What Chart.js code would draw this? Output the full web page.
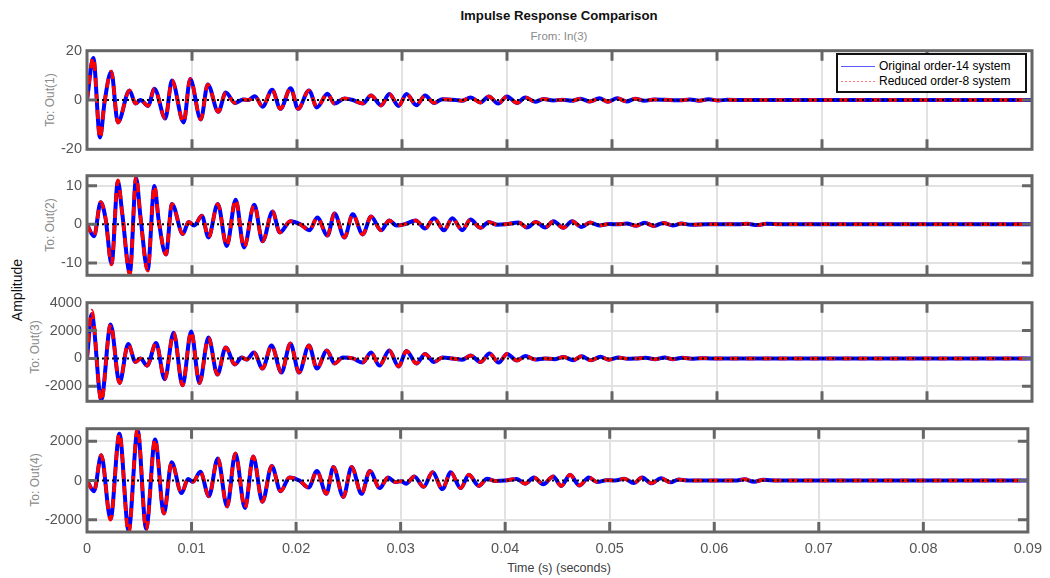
<!DOCTYPE html>
<html><head><meta charset="utf-8">
<script src="https://cdn.jsdelivr.net/npm/chart.js@4"></script>
<style>
html,body{margin:0;padding:0;background:#fff;}
body{width:1050px;height:578px;overflow:hidden;position:relative;font-family:"Liberation Sans",Arial,Helvetica,sans-serif;}
.pc{position:absolute;left:0;width:1050px;}
.txt{position:absolute;white-space:nowrap;transform:translate(-50%,-50%);line-height:1;}
.rot{transform:translate(-50%,-50%) rotate(-90deg);}
#legend{position:absolute;left:836px;top:53px;width:187px;height:36px;border:2px solid #111;background:#fff;z-index:5;}
#legend .ln{position:absolute;left:3px;width:34px;height:1px;}
#legend .lt{position:absolute;left:41px;font-size:12px;color:#000;transform:translateY(-50%);white-space:nowrap;line-height:1;}
</style></head><body>

<div class="txt" style="left:559px;top:16px;font-size:13.2px;font-weight:bold;color:#111;">Impulse Response Comparison</div>
<div class="txt" style="left:559px;top:37px;font-size:11.5px;color:#8a8a8a;">From: In(3)</div>
<div class="txt rot" style="left:17px;top:290px;font-size:14px;color:#111;">Amplitude</div>
<div class="txt rot" style="left:50px;top:100px;font-size:12px;color:#8a8a8a;">To: Out(1)</div>
<div class="txt rot" style="left:50px;top:225px;font-size:12px;color:#8a8a8a;">To: Out(2)</div>
<div class="txt rot" style="left:35px;top:347px;font-size:12px;color:#8a8a8a;">To: Out(3)</div>
<div class="txt rot" style="left:35px;top:480px;font-size:12px;color:#8a8a8a;">To: Out(4)</div>
<div class="txt" style="left:559px;top:568px;font-size:12.5px;color:#404040;">Time (s) (seconds)</div>

<div class="pc" style="top:37px;height:126px;"><canvas id="c1" width="1050" height="126"></canvas></div>
<div class="pc" style="top:162px;height:127px;"><canvas id="c2" width="1050" height="127"></canvas></div>
<div class="pc" style="top:289px;height:126px;"><canvas id="c3" width="1050" height="126"></canvas></div>
<div class="pc" style="top:415px;height:162px;"><canvas id="c4" width="1050" height="162"></canvas></div>

<div id="legend">
  <div class="ln" style="top:11px;background:#5a5aff;"></div>
  <div class="lt" style="top:11px;">Original order-14 system</div>
  <div class="ln" style="top:26px;background:repeating-linear-gradient(to right,#ff7a7a 0 2px,rgba(255,255,255,0) 2px 4px);"></div>
  <div class="lt" style="top:26px;">Reduced order-8 system</div>
</div>

<script>
// ---- data (time in ms) ----
const xTicks = [0, 0.01, 0.02, 0.03, 0.04, 0.05, 0.06, 0.07, 0.08, 0.09];
const seriesNames = ['Original order-14 system', 'Reduced order-8 system'];

// Out(1)
const t1 = [0, 0.60, 1.24, 1.68, 2.31, 2.94, 4.05, 4.62, 5.09, 5.82,
  6.42, 7.46, 8.09, 9.20, 9.83, 10.84, 11.50, 12.51, 13.21, 14.09,
  14.88, 15.36, 15.99, 16.72, 17.63, 18.42, 19.40, 20.10, 21.14, 21.90,
  22.90, 23.57, 24.52, 25.31, 26.26, 27.05, 28.00, 28.79, 29.67, 30.43,
  31.38, 32.20, 33.05, 33.84, 35.10, 35.70, 36.53, 37.48, 38.27, 39.15,
  40.00, 40.95, 41.74, 42.69, 43.48, 44.40, 45.30, 46.20, 47.00, 47.90,
  48.80, 49.60, 50.50, 51.40, 52.20, 53.10, 54.00, 55.50, 56.50, 57.40,
  58.30, 59.20, 60.10, 61.00, 62.50, 90];
const out1Orig = [0, 17.0, -15.2, -0.6, 11.5, -9.1, 3.9, -1.45, 0, -2.4,
  4.6, -7.5, 7.9, -9.1, 8.5, -7.9, 6.3, -4.8, 3.0, -1.2,
  0.2, 0, 1.5, -2.7, 4.2, -3.6, 4.8, -3.6, 3.9, -3.0,
  2.5, -1.45, 0.6, 0, -1.45, 1.8, -2.2, 2.4, -2.4, 2.4,
  -2.1, 1.8, -1.2, 0.3, 0, -0.3, 1.0, -1.0, 1.45, -1.45,
  1.45, -1.2, 1.0, -0.7, 0.4, -0.2, 0.1, -0.3, 0.5, -0.6,
  0.7, -0.7, 0.7, -0.6, 0.5, -0.3, 0.2, 0, -0.15, 0.25,
  -0.3, 0.3, -0.2, 0.1, 0, 0];
const out1Red = [0, 17.3, -15.6, -0.6, 11.6, -9.1, 3.9, -1.45, 0, -2.4,
  4.6, -7.5, 7.9, -9.1, 8.5, -7.9, 6.3, -4.8, 3.0, -1.2,
  0.2, 0, 1.5, -2.7, 4.2, -3.6, 4.8, -3.6, 3.9, -3.0,
  2.5, -1.45, 0.6, 0, -1.45, 1.8, -2.2, 2.4, -2.4, 2.4,
  -2.1, 1.8, -1.2, 0.3, 0, -0.3, 1.0, -1.0, 1.45, -1.45,
  1.45, -1.2, 1.0, -0.7, 0.4, -0.2, 0.1, -0.3, 0.5, -0.6,
  0.7, -0.7, 0.7, -0.6, 0.5, -0.3, 0.2, 0, -0.15, 0.25,
  -0.3, 0.3, -0.2, 0.1, 0, 0];

// Out(2)
const t2 = [0, 0.67, 1.30, 1.77, 2.34, 2.94, 3.35, 4.08, 4.68, 5.09,
  5.78, 6.42, 6.83, 7.52, 8.09, 9.13, 9.67, 10.21, 10.94, 11.57,
  12.45, 13.31, 14.16, 14.95, 15.93, 16.72, 17.67, 18.36, 19.37, 20.32,
  21.20, 21.93, 22.90, 23.57, 24.52, 25.31, 26.26, 27.05, 28.00, 28.79,
  29.48, 30.21, 31.31, 32.20, 33.05, 34.00, 34.79, 35.74, 36.53, 37.48,
  38.27, 39.06, 39.85, 41.11, 41.90, 42.75, 43.64, 44.43, 45.37, 46.20,
  47.10, 47.90, 48.80, 49.70, 50.60, 51.40, 52.30, 53.10, 54.00, 54.90,
  55.80, 56.60, 57.50, 59.00, 62.00, 62.90, 63.80, 64.70, 66.00, 90];
const out2Orig = [0, -3.1, 5.7, 1.5, -10.2, 11.1, 3.0, -12.5, 12.0, 2.0,
  -11.8, 9.9, 1.0, -7.8, 5.3, -2.5, 0.6, -0.3, 2.2, -3.4,
  5.3, -5.6, 6.4, -6.0, 5.1, -4.4, 3.3, -2.1, 0.8, 0,
  -1.55, 1.8, -2.9, 2.8, -3.4, 2.6, -2.6, 2.0, -1.55, 1.0,
  -0.3, 0, 1.0, -1.1, 1.6, -1.55, 1.55, -1.5, 1.25, -0.9,
  0.6, -0.1, 0, 0.5, -0.8, 0.6, -0.8, 0.8, -0.9, 0.8,
  -0.7, 0.5, -0.3, 0.1, 0, 0.25, -0.35, 0.4, -0.4, 0.35,
  -0.3, 0.2, -0.1, 0, 0, 0.15, -0.2, 0.15, 0, 0];
const out2Red = [0, -3.1, 5.8, 1.5, -10.4, 11.4, 3.0, -13.0, 12.6, 2.0,
  -12.0, 10.0, 1.0, -7.8, 5.3, -2.5, 0.6, -0.3, 2.2, -3.4,
  5.3, -5.6, 6.4, -6.0, 5.1, -4.4, 3.3, -2.1, 0.8, 0,
  -1.55, 1.8, -2.9, 2.8, -3.4, 2.6, -2.6, 2.0, -1.55, 1.0,
  -0.3, 0, 1.0, -1.1, 1.6, -1.55, 1.55, -1.5, 1.25, -0.9,
  0.6, -0.1, 0, 0.5, -0.8, 0.6, -0.8, 0.8, -0.9, 0.8,
  -0.7, 0.5, -0.3, 0.1, 0, 0.25, -0.35, 0.4, -0.4, 0.35,
  -0.3, 0.2, -0.1, 0, 0, 0.15, -0.2, 0.15, 0, 0];

// Out(3)
const t3 = [0, 0.45, 1.36, 2.25, 3.10, 3.92, 4.62, 5.09, 5.72, 6.58,
  7.40, 8.25, 9.10, 9.92, 10.71, 11.57, 12.42, 13.21, 14.09, 14.73,
  15.20, 15.90, 16.72, 17.57, 18.52, 19.37, 20.19, 21.14, 21.90, 22.85,
  23.57, 24.36, 25.31, 26.26, 27.05, 27.84, 28.79, 29.67, 30.43, 31.38,
  32.20, 33.05, 33.84, 34.79, 35.74, 36.53, 37.48, 38.33, 39.21, 40.00,
  40.95, 41.74, 42.69, 43.64, 44.50, 45.40, 46.30, 47.10, 48.00, 48.90,
  49.70, 50.60, 51.50, 52.30, 53.20, 54.10, 55.00, 55.80, 56.70, 57.60,
  58.50, 59.40, 60.20, 61.50, 90];
const out3Orig = [0, 3150, -2950, 2430, -1760, 1030, -260, 0, -520, 1100,
  -1500, 1850, -1935, 1935, -1760, 1500, -1160, 775, -430, 65,
  -85, 430, -730, 925, -1010, 1075, -1010, 925, -730, 570,
  -365, 65, 0, -300, 430, -515, 560, -580, 540, -365,
  320, -260, 65, 0, -100, 215, -260, 345, -300, 320,
  -150, 170, -85, 0, -60, 100, -130, 150, -140, 120,
  -90, 60, -20, 0, 40, -60, 70, -60, 40, -20,
  10, 0, 0, 0, 0];
const out3Red = [0, 3440, -3080, 2450, -1770, 1030, -260, 0, -520, 1100,
  -1500, 1850, -1935, 1935, -1760, 1500, -1160, 775, -430, 65,
  -85, 430, -730, 925, -1010, 1075, -1010, 925, -730, 570,
  -365, 65, 0, -300, 430, -515, 560, -580, 540, -365,
  320, -260, 65, 0, -100, 215, -260, 345, -300, 320,
  -150, 170, -85, 0, -60, 100, -130, 150, -140, 120,
  -90, 60, -20, 0, 40, -60, 70, -60, 40, -20,
  10, 0, 0, 0, 0];

// Out(4)
const t4 = [0, 0.67, 1.36, 2.25, 3.10, 3.98, 4.84, 5.66, 6.51, 7.36,
  8.09, 9.04, 9.67, 10.14, 10.84, 11.66, 12.51, 13.40, 14.19, 15.11,
  15.90, 16.78, 17.67, 18.52, 19.37, 20.32, 21.20, 21.99, 22.90, 23.57,
  24.52, 25.31, 26.26, 27.05, 28.00, 28.79, 29.48, 30.05, 30.52, 31.31,
  32.20, 33.05, 34.00, 34.79, 35.74, 36.53, 37.48, 38.27, 39.06, 40.00,
  41.11, 41.90, 42.75, 43.64, 44.59, 45.37, 46.20, 47.10, 48.00, 48.80,
  49.70, 50.50, 51.40, 52.30, 53.10, 54.00, 54.90, 55.80, 56.60, 57.50,
  58.40, 60.00, 62.00, 62.90, 63.80, 64.70, 66.00, 90];
const out4Orig = [0, -545, 1285, -1960, 2375, -2550, 2550, -2450, 2090, -1670,
  930, -640, 80, -65, 450, -800, 1125, -1320, 1380, -1400,
  1220, -1075, 740, -545, 160, 0, -355, 480, -675, 690,
  -835, 690, -675, 480, -385, 160, -80, -30, -160, 210,
  -320, 420, -435, 420, -385, 290, -275, 95, -20, 0,
  80, -160, 160, -190, 210, -275, 290, -250, 160, -80,
  20, 0, 90, -130, 150, -140, 120, -90, 50, 0,
  0, 0, 0, 60, -60, 40, 0, 0];
const out4Red = [0, -545, 1300, -1990, 2400, -2680, 2680, -2500, 2110, -1680,
  930, -640, 80, -65, 450, -800, 1125, -1320, 1380, -1400,
  1220, -1075, 740, -545, 160, 0, -355, 480, -675, 690,
  -835, 690, -675, 480, -385, 160, -80, -30, -160, 210,
  -320, 420, -435, 420, -385, 290, -275, 95, -20, 0,
  80, -160, 160, -190, 210, -275, 290, -250, 160, -80,
  20, 0, 90, -130, 150, -140, 120, -90, 50, 0,
  0, 0, 0, 60, -60, 40, 0, 0];

const yTicks1 = [-20, 0, 20];
const yTicks2 = [-10, 0, 10];
const yTicks3 = [-2000, 0, 2000, 4000];
const yTicks4 = [-2000, 0, 2000];

// ---- drawing ----
const FONT = '"Liberation Sans", Arial, Helvetica, sans-serif';
const FRAME = '#666666';
const GRID = '#e2e2e2';

const framePlugin = {
  id: 'frame',
  afterDraw(chart) {
    const {ctx, chartArea: a, scales} = chart;
    ctx.save();
    ctx.strokeStyle = FRAME;
    ctx.lineWidth = 3;
    ctx.lineCap = 'butt';
    scales.x.ticks.forEach(t => {
      const px = scales.x.getPixelForValue(t.value);
      if (px <= a.left + 2 || px >= a.right - 2) return;
      ctx.beginPath();
      ctx.moveTo(px, a.top); ctx.lineTo(px, a.top + 10);
      ctx.moveTo(px, a.bottom); ctx.lineTo(px, a.bottom - 10);
      ctx.stroke();
    });
    scales.y.ticks.forEach(t => {
      const py = scales.y.getPixelForValue(t.value);
      if (py <= a.top + 2 || py >= a.bottom - 2) return;
      ctx.beginPath();
      ctx.moveTo(a.left, py); ctx.lineTo(a.left + 10, py);
      ctx.moveTo(a.right, py); ctx.lineTo(a.right - 10, py);
      ctx.stroke();
    });
    ctx.strokeRect(a.left, a.top, a.right - a.left, a.bottom - a.top);
    ctx.restore();
  }
};

function pts(t, v) { return t.map((tt, i) => ({x: tt / 1000, y: v[i]})); }

function makePanel(id, t, orig, red, yMin, yMax, yTicks, showX) {
  const ctx = document.getElementById(id);
  return new Chart(ctx, {
    type: 'line',
    data: {
      datasets: [
        {label: 'zero', data: [{x: 0, y: 0}, {x: 0.09, y: 0}], borderColor: '#000',
         borderWidth: 2, borderDash: [2, 3], pointRadius: 0, order: 0},
        {label: seriesNames[1], data: pts(t, red), borderColor: '#ff0000', borderWidth: 3.5,
         borderDash: [9, 7], pointRadius: 0, cubicInterpolationMode: 'monotone', order: 1},
        {label: seriesNames[0], data: pts(t, orig), borderColor: '#0000ff', borderWidth: 4,
         pointRadius: 0, cubicInterpolationMode: 'monotone', order: 2}
      ]
    },
    options: {
      responsive: false,
      animation: false,
      events: [],
      layout: {padding: {left: 0, right: 18, top: 8, bottom: showX ? 0 : 8}},
      plugins: {legend: {display: false}, tooltip: {enabled: false}, title: {display: false}},
      scales: {
        x: {
          type: 'linear', min: 0, max: 0.09,
          afterBuildTicks: s => { s.ticks = xTicks.map(v => ({value: v})); },
          afterFit: s => { s.height = showX ? 45 : 0; },
          grid: {color: GRID, lineWidth: 2, drawTicks: false},
          border: {display: false},
          ticks: {display: showX, padding: 8, color: '#555', font: {family: FONT, size: 14.5},
                  maxRotation: 0, autoSkip: false,
                  callback: v => String(Math.round(v * 100) / 100)}
        },
        y: {
          type: 'linear', min: yMin, max: yMax,
          afterBuildTicks: s => { s.ticks = yTicks.map(v => ({value: v})); },
          afterFit: s => { s.width = 87; },
          grid: {color: c => (c.tick && c.tick.value === 0) ? 'rgba(0,0,0,0)' : GRID, lineWidth: 2, drawTicks: false},
          border: {display: false},
          ticks: {padding: 5, color: '#555', font: {family: FONT, size: 14.5}, autoSkip: false,
                  callback: v => String(v)}
        }
      }
    },
    plugins: [framePlugin]
  });
}

makePanel('c1', t1, out1Orig, out1Red, -20, 20, yTicks1, false);
makePanel('c2', t2, out2Orig, out2Red, -13.2, 12.6, yTicks2, false);
makePanel('c3', t3, out3Orig, out3Red, -3080, 4000, yTicks3, false);
makePanel('c4', t4, out4Orig, out4Red, -2617, 2636, yTicks4, true);
</script>
</body></html>
